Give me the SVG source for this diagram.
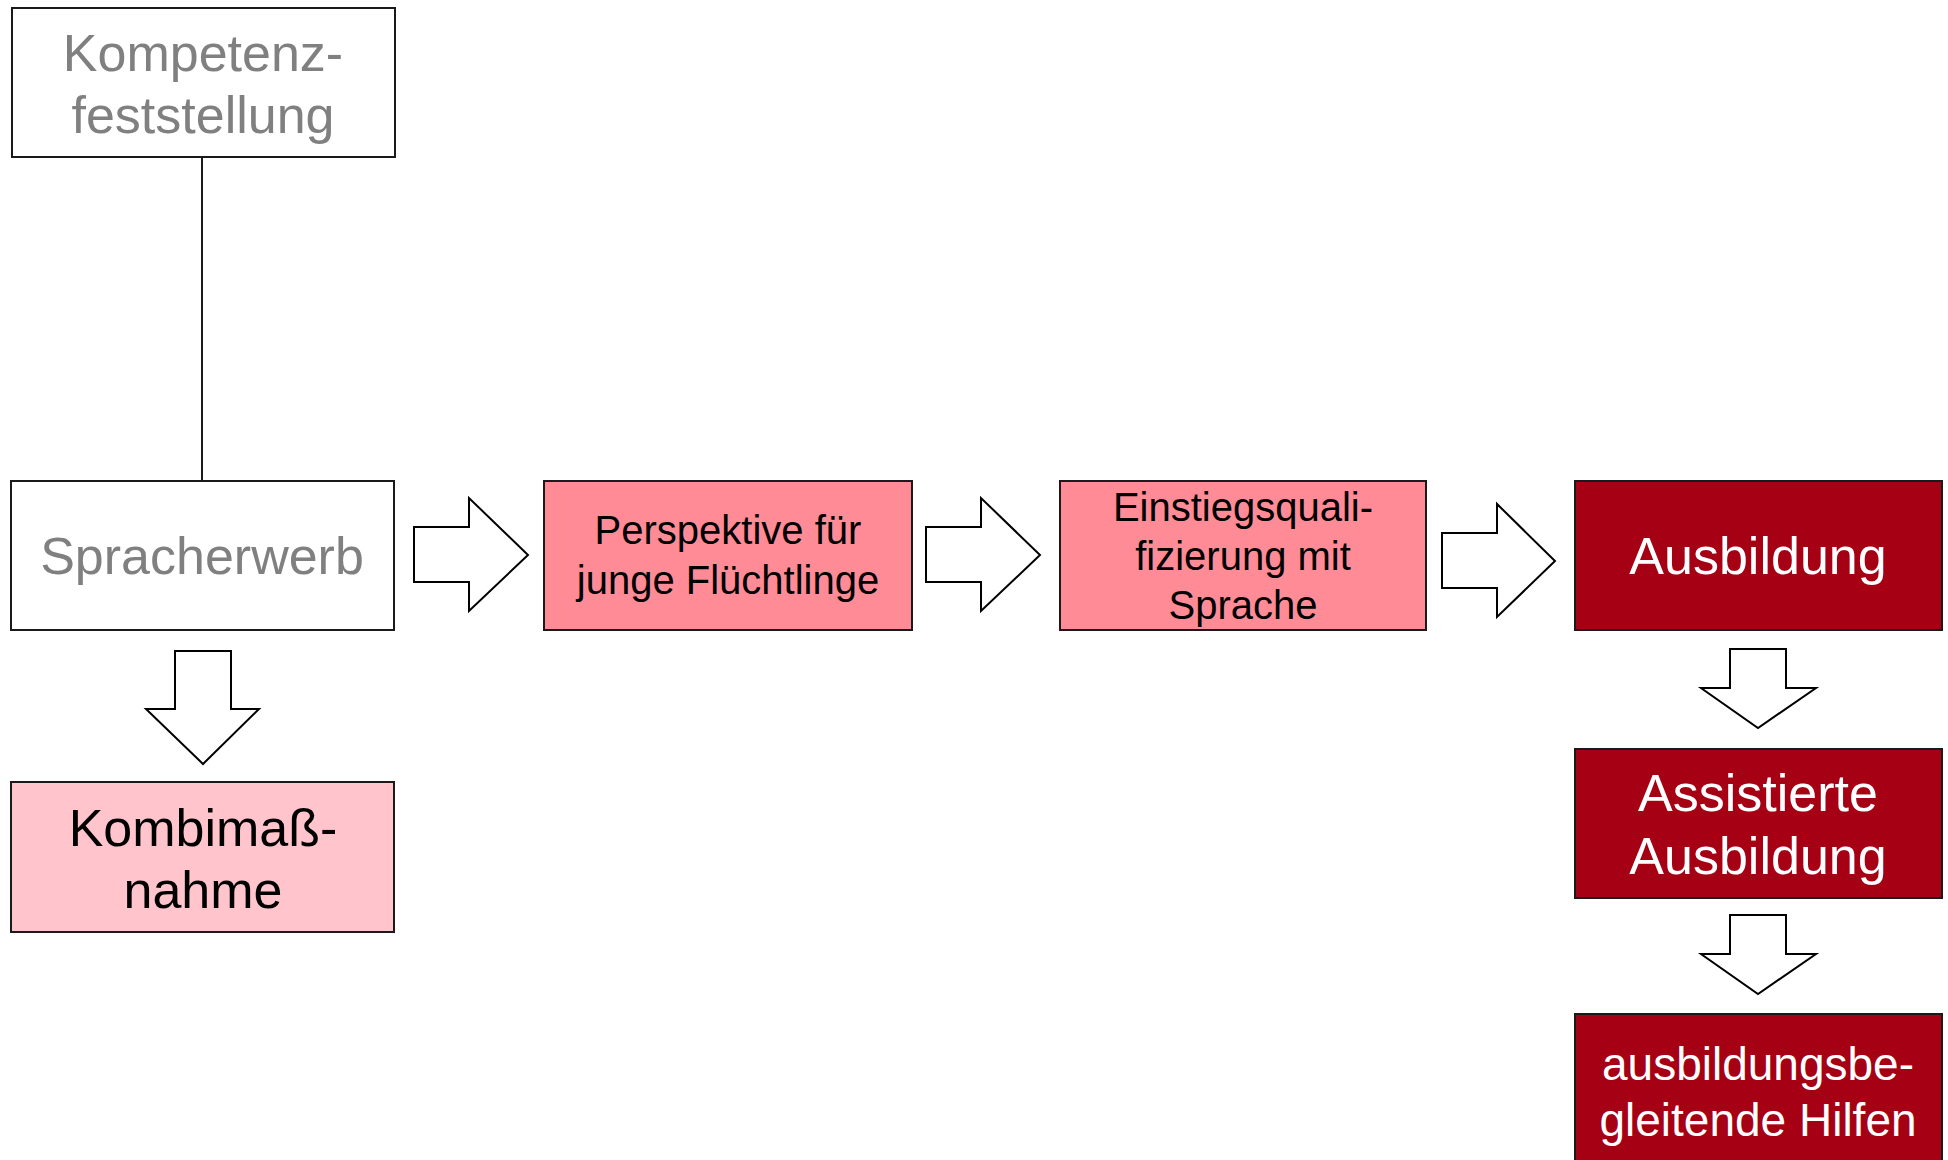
<svg xmlns="http://www.w3.org/2000/svg" width="1948" height="1160" viewBox="0 0 1948 1160">
<style>
.box{stroke:#1a1a1a;stroke-width:2}
.w{fill:#ffffff}
.p{fill:#FF8B96}
.lp{fill:#FFC4CC}
.r{fill:#A60014}
.arr{fill:#ffffff;stroke:#000000;stroke-width:2;stroke-linejoin:miter}
.t{font-family:"Liberation Sans",Arial,sans-serif;text-anchor:middle}
.g{fill:#808080;font-size:52px}
.k{fill:#000000}
.wt{fill:#ffffff}
</style>
<rect width="1948" height="1160" fill="#ffffff"/>
<g id="connectors">
<line x1="202" y1="157" x2="202" y2="481" stroke="#1a1a1a" stroke-width="2"/>
<polygon class="arr" points="414,527 469,527 469,498 528,555 469,611 469,582 414,582"/>
<polygon class="arr" points="926,527 981,527 981,498 1040,555 981,611 981,582 926,582"/>
<polygon class="arr" points="1442,533 1497,533 1497,504 1555,561 1497,617 1497,588 1442,588"/>
<polygon class="arr" points="175,651 231,651 231,709 259,709 203,764 146,709 175,709"/>
<polygon class="arr" points="1730,649 1786,649 1786,688 1816,688 1758,728 1701,688 1730,688"/>
<polygon class="arr" points="1730,915 1786,915 1786,954 1816,954 1758,994 1701,954 1730,954"/>
</g>
<g id="kompetenz">
<rect class="box w" x="12" y="8" width="383" height="149"/>
<text class="t g" x="203" y="71">Kompetenz-</text>
<text class="t g" x="203" y="133">feststellung</text>
</g>
<g id="spracherwerb">
<rect class="box w" x="11" y="481" width="383" height="149"/>
<text class="t g" x="202" y="574">Spracherwerb</text>
</g>
<g id="kombi">
<rect class="box lp" x="11" y="782" width="383" height="150"/>
<text class="t k" x="203" y="846" font-size="52">Kombimaß-</text>
<text class="t k" x="203" y="908" font-size="52">nahme</text>
</g>
<g id="perspektive">
<rect class="box p" x="544" y="481" width="368" height="149"/>
<text class="t k" x="728" y="544" font-size="40">Perspektive für</text>
<text class="t k" x="728" y="594" font-size="40">junge Flüchtlinge</text>
</g>
<g id="einstieg">
<rect class="box p" x="1060" y="481" width="366" height="149"/>
<text class="t k" x="1243" y="521" font-size="40">Einstiegsquali-</text>
<text class="t k" x="1243" y="570" font-size="40">fizierung mit</text>
<text class="t k" x="1243" y="619" font-size="40">Sprache</text>
</g>
<g id="ausbildung">
<rect class="box r" x="1575" y="481" width="367" height="149"/>
<text class="t wt" x="1758" y="574" font-size="52">Ausbildung</text>
</g>
<g id="assistierte">
<rect class="box r" x="1575" y="749" width="367" height="149"/>
<text class="t wt" x="1758" y="811" font-size="52">Assistierte</text>
<text class="t wt" x="1758" y="874" font-size="52">Ausbildung</text>
</g>
<g id="begleitende">
<rect class="box r" x="1575" y="1014" width="367" height="160"/>
<text class="t wt" x="1758" y="1080" font-size="46">ausbildungsbe-</text>
<text class="t wt" x="1758" y="1136" font-size="46">gleitende Hilfen</text>
</g>
</svg>
